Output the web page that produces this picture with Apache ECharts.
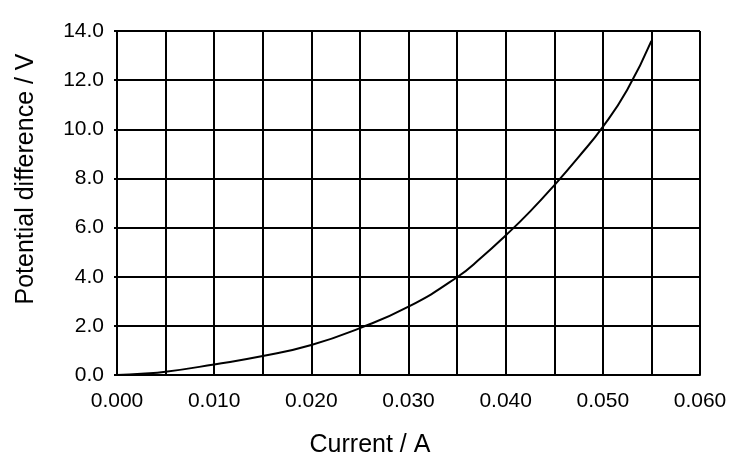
<!DOCTYPE html>
<html>
<head>
<meta charset="utf-8">
<script src="https://cdn.jsdelivr.net/npm/echarts@6/dist/echarts.min.js"></script>
<style>
  html, body { margin: 0; padding: 0; background: #fff; }
  #chart { width: 750px; height: 468px; }
</style>
</head>
<body>
<div id="chart"></div>
<script>
// data
var currentA = [0, 0.0025, 0.005, 0.010, 0.015, 0.020, 0.025, 0.030, 0.035, 0.0375, 0.040, 0.0425, 0.045, 0.0475, 0.050, 0.0525, 0.055];
var voltageV = [0, 0.05, 0.13, 0.43, 0.77, 1.22, 1.91, 2.78, 3.98, 4.78, 5.68, 6.65, 7.72, 8.87, 10.1, 11.6, 13.6];
var xTickLabels = ["0.000", "0.010", "0.020", "0.030", "0.040", "0.050", "0.060"];
var yTickLabels = ["0.0", "2.0", "4.0", "6.0", "8.0", "10.0", "12.0", "14.0"];

var font = '"Liberation Sans", Arial, sans-serif';
var chart = echarts.init(document.getElementById("chart"));

var option = {
  animation: false,
  grid: {
    left: 117,
    right: 50,
    top: 31,
    bottom: 93
  },
  graphic: [
    {
      type: "text",
      x: 370,
      y: 445,
      style: {
        text: "Current / A",
        fontFamily: font,
        fontSize: 25,
        fill: "#000",
        align: "center",
        verticalAlign: "middle"
      }
    },
    {
      type: "text",
      x: 26,
      y: 179,
      rotation: Math.PI / 2,
      style: {
        text: "Potential difference / V",
        fontFamily: font,
        fontSize: 25,
        fill: "#000",
        align: "center",
        verticalAlign: "middle"
      }
    }
  ],
  xAxis: {
    type: "value",
    min: 0,
    max: 0.06,
    interval: 0.005,
    axisLine: { show: true, lineStyle: { color: "#000", width: 2 } },
    axisTick: { show: false },
    splitLine: { show: true, lineStyle: { color: "#000", width: 2 } },
    axisLabel: {
      margin: 16,
      color: "#000",
      fontFamily: font,
      fontSize: 21,
      formatter: function(v) {
        var k = Math.round(v * 1000);
        return k % 10 === 0 ? xTickLabels[k / 10] : "";
      }
    }
  },
  yAxis: {
    type: "value",
    min: 0,
    max: 14,
    interval: 2,
    axisLine: { show: true, lineStyle: { color: "#000", width: 2 } },
    axisTick: { show: true, length: 3, lineStyle: { color: "#000", width: 2 } },
    splitLine: { show: true, lineStyle: { color: "#000", width: 2 } },
    axisLabel: {
      margin: 13,
      color: "#000",
      fontFamily: font,
      fontSize: 21,
      formatter: function(v) {
        return yTickLabels[Math.round(v / 2)];
      }
    }
  },
  series: [
    {
      type: "line",
      data: currentA.map(function(x, i) { return [x, voltageV[i]]; }),
      smooth: 0.5,
      showSymbol: false,
      lineStyle: { color: "#000", width: 2 }
    }
  ]
};
chart.setOption(option);
</script>
</body>
</html>
